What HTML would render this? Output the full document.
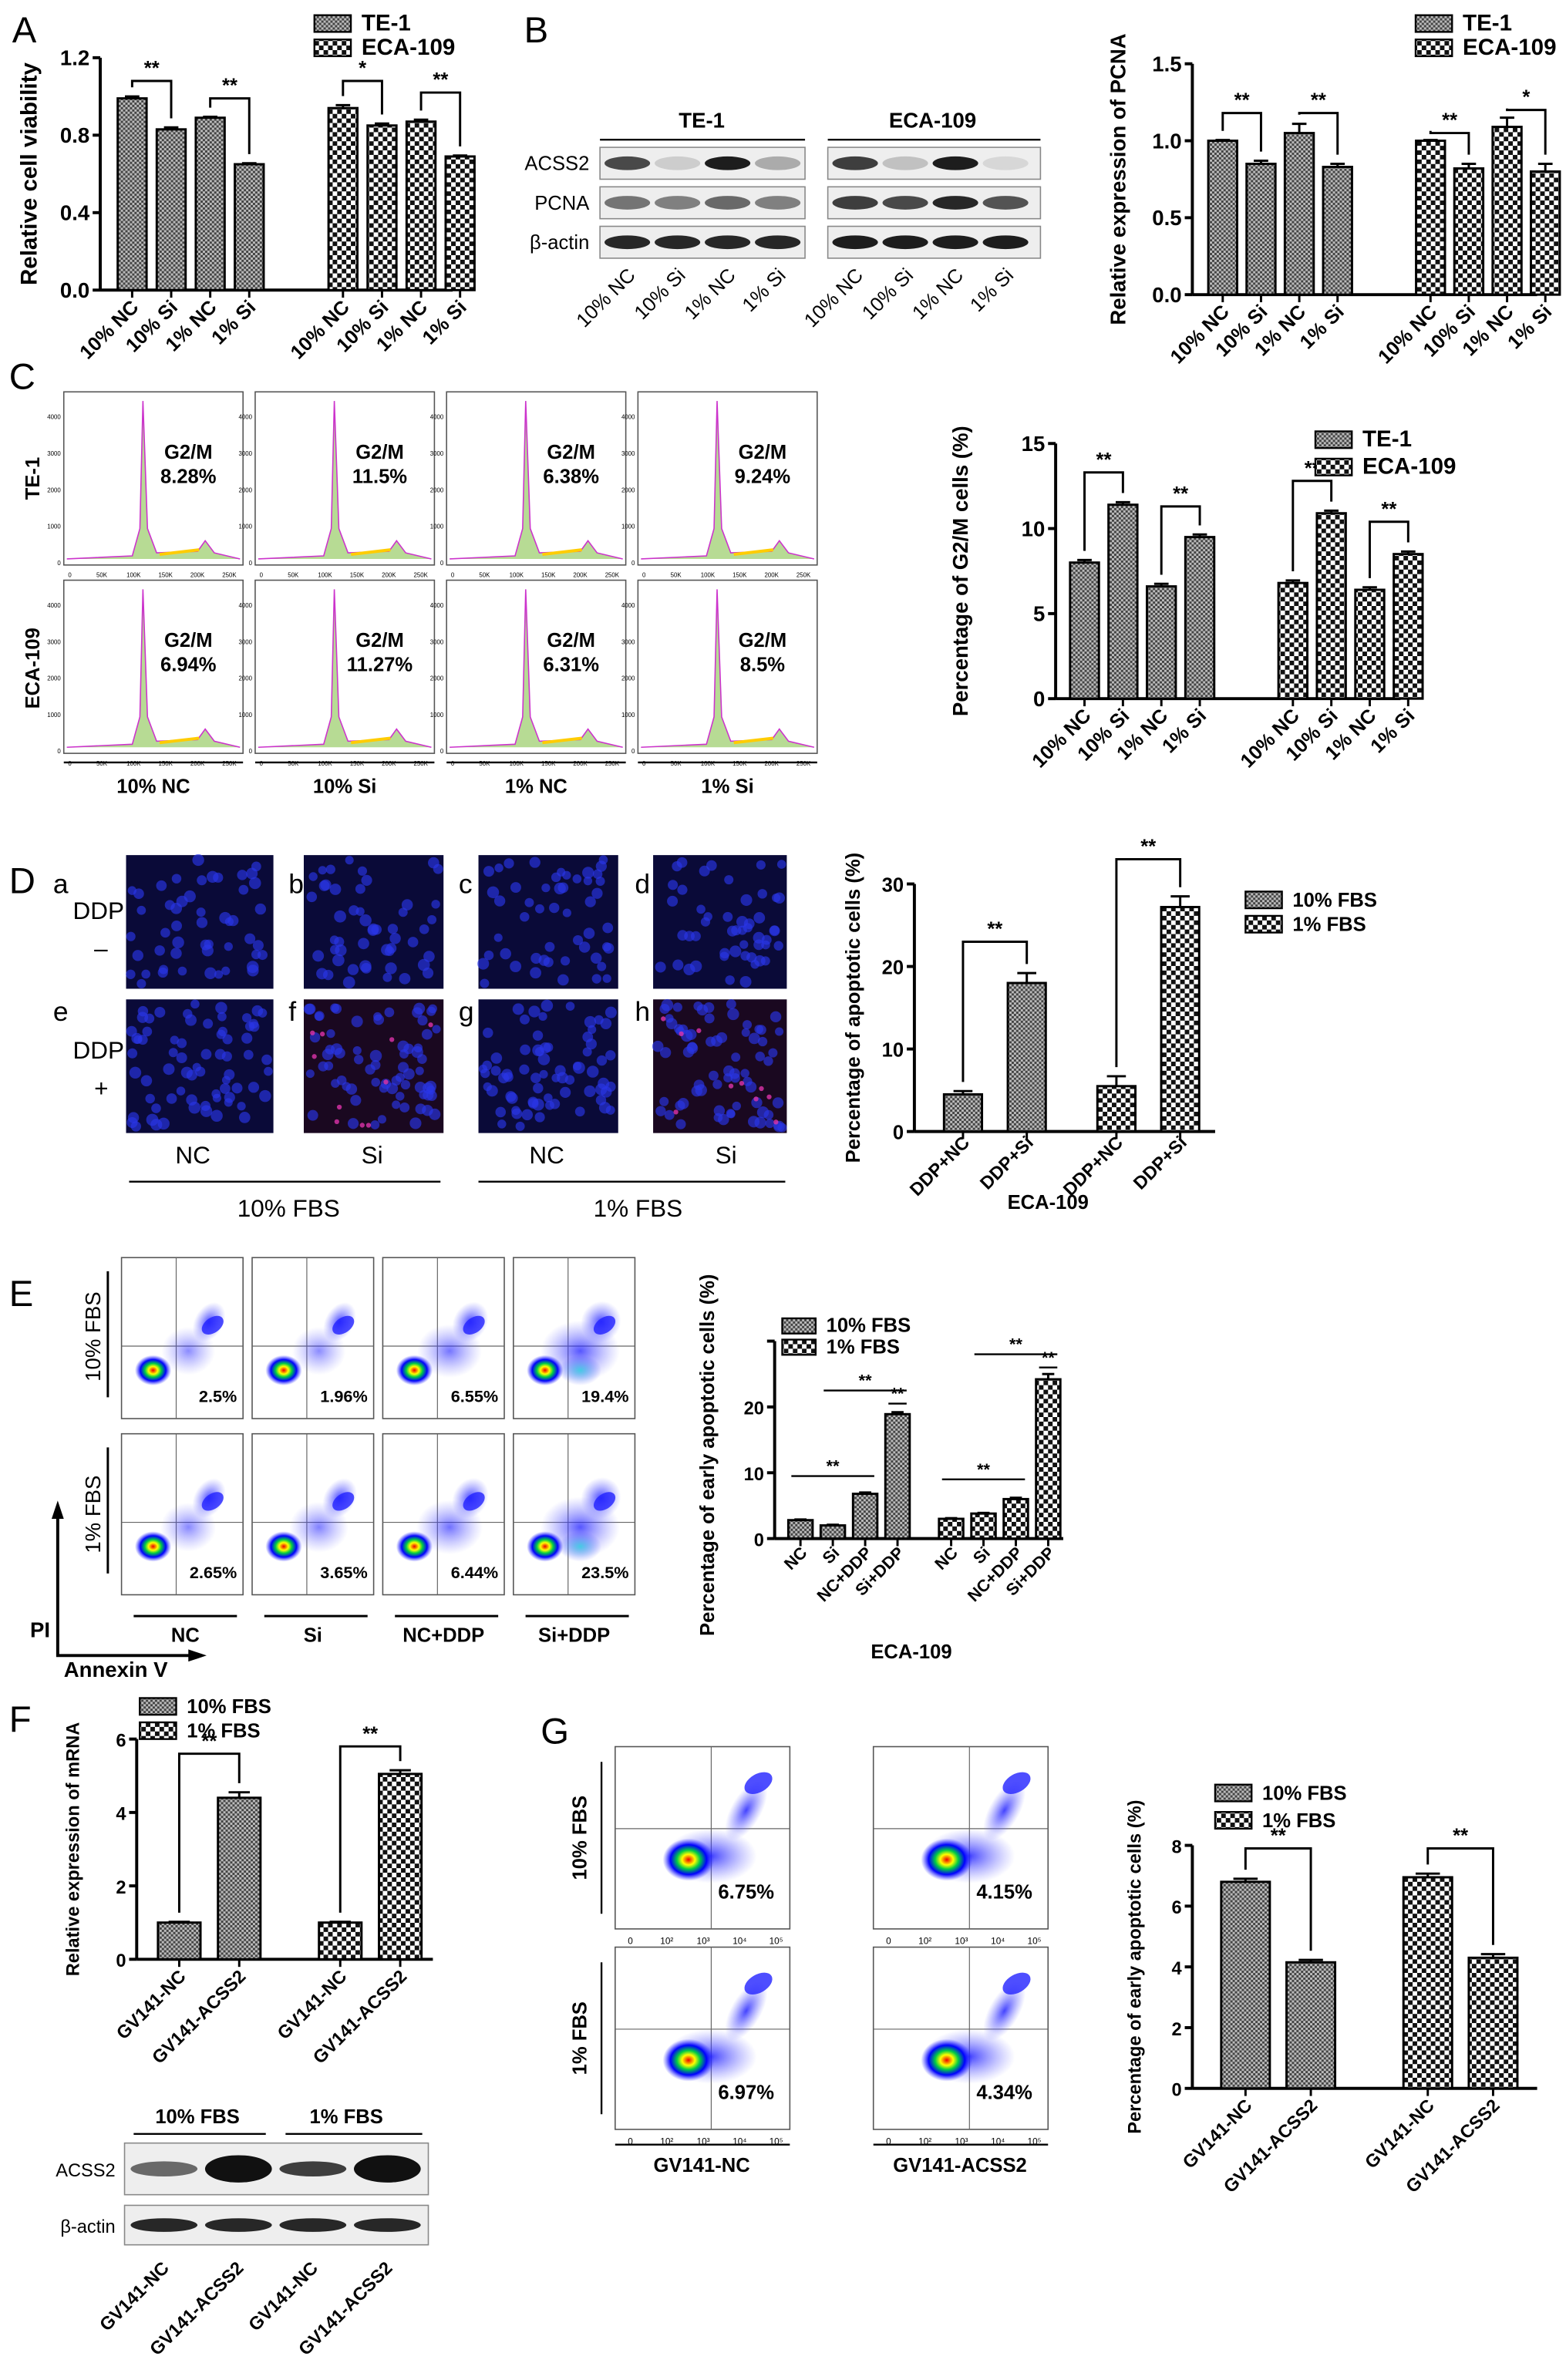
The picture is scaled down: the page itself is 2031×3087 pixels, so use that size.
<!DOCTYPE html>
<html><head><meta charset="utf-8"><style>
html,body{margin:0;padding:0;background:#fff}
svg{display:block}
text{font-family:"Liberation Sans",Arial,sans-serif}
</style></head><body>
<svg id="fig" xmlns="http://www.w3.org/2000/svg" width="2031" height="3087" viewBox="0 0 1031 1567" preserveAspectRatio="none">
<defs>
<pattern id="pFine" width="3" height="3" patternUnits="userSpaceOnUse"><rect width="3" height="3" fill="#bbb"/><rect width="1.5" height="1.5" fill="#444"/><rect x="1.5" y="1.5" width="1.5" height="1.5" fill="#444"/></pattern>
<pattern id="pCoarse" width="6" height="6" patternUnits="userSpaceOnUse"><rect width="6" height="6" fill="#fff"/><rect width="3" height="3" fill="#111"/><rect x="3" y="3" width="3" height="3" fill="#111"/></pattern>
<radialGradient id="blob"><stop offset="0" stop-color="#e00"/><stop offset="0.25" stop-color="#ff0"/><stop offset="0.45" stop-color="#0c4"/><stop offset="0.7" stop-color="#00f"/><stop offset="1" stop-color="#33f" stop-opacity="0"/></radialGradient>
<radialGradient id="cloud"><stop offset="0" stop-color="#22f" stop-opacity="0.85"/><stop offset="1" stop-color="#66f" stop-opacity="0"/></radialGradient>
<radialGradient id="cyan"><stop offset="0" stop-color="#2cd" stop-opacity="0.8"/><stop offset="1" stop-color="#44f" stop-opacity="0"/></radialGradient>
</defs>
<g id="root"></g>
</svg>
<script>
// ---------- chart data ----------
const aCategories = ["10% NC","10% Si","1% NC","1% Si","10% NC","10% Si","1% NC","1% Si"];
const aValues = [0.99,0.83,0.89,0.65,0.94,0.85,0.87,0.69];
const aErrors = [0.01,0.01,0.005,0.005,0.015,0.01,0.01,0.005];
const aTicks = [0,0.4,0.8,1.2];
const aTickLabels = ["0.0","0.4","0.8","1.2"];

const bValues = [1.0,0.85,1.05,0.83,1.0,0.82,1.09,0.80];
const bErrors = [0.005,0.02,0.06,0.02,0.005,0.03,0.06,0.05];
const bTicks = [0,0.5,1.0,1.5];
const bTickLabels = ["0.0","0.5","1.0","1.5"];

const cValues = [8.0,11.4,6.6,9.5,6.8,10.9,6.4,8.5];
const cErrors = [0.15,0.15,0.15,0.15,0.15,0.15,0.15,0.15];
const cTicks = [0,5,10,15];
const cTickLabels = ["0","5","10","15"];
const cPercents = ["8.28%","11.5%","6.38%","9.24%","6.94%","11.27%","6.31%","8.5%"];

const dCategories = ["DDP+NC","DDP+Si","DDP+NC","DDP+Si"];
const dValues = [4.5,18.0,5.5,27.2];
const dErrors = [0.4,1.2,1.2,1.3];
const dTicks = [0,10,20,30];
const dTickLabels = ["0","10","20","30"];

const eCategories = ["NC","Si","NC+DDP","Si+DDP","NC","Si","NC+DDP","Si+DDP"];
const eValues = [2.8,2.0,6.8,18.9,3.0,3.8,6.0,24.2];
const eErrors = [0.1,0.1,0.2,0.3,0.1,0.1,0.2,0.8];
const eTicks = [0,10,20,30];
const eTickLabels = ["0","10","20",""];
const ePercents = ["2.5%","1.96%","6.55%","19.4%","2.65%","3.65%","6.44%","23.5%"];

const fCategories = ["GV141-NC","GV141-ACSS2","GV141-NC","GV141-ACSS2"];
const fValues = [1.0,4.4,1.0,5.05];
const fErrors = [0.02,0.15,0.02,0.1];
const fTicks = [0,2,4,6];
const fTickLabels = ["0","2","4","6"];

const gValues = [6.8,4.15,6.95,4.3];
const gErrors = [0.1,0.08,0.12,0.12];
const gTicks = [0,2,4,6,8];
const gTickLabels = ["0","2","4","6","8"];
const gPercents = ["6.75%","4.15%","6.97%","4.34%"];

// ---------- helpers ----------
const NS="http://www.w3.org/2000/svg";
const root=document.getElementById('root');
function mk(tag,attrs,parent,txt){const e=document.createElementNS(NS,tag);for(const k in attrs)e.setAttribute(k,attrs[k]);if(txt!==undefined)e.textContent=txt;(parent||root).appendChild(e);return e;}
function grp(name,parent){const g=mk('g',{},parent);return g;}
function txt(s,x,y,size,opts,parent,name){opts=opts||{};const a={x:x,y:y,'font-size':size,'text-anchor':opts.anchor||'start',fill:opts.fill||'#000'};if(opts.bold!==false)a['font-weight']='bold';if(opts.rot!==undefined)a.transform='rotate('+opts.rot+' '+x+' '+y+')';const t=mk('text',a,parent,s);return t;}
function line(x1,y1,x2,y2,w,parent,col){return mk('line',{x1:x1,y1:y1,x2:x2,y2:y2,stroke:col||'#000','stroke-width':w||1.5},parent);}

function barChart(o){
  const g=grp(o.name);
  const max=o.ticks[o.ticks.length-1];
  const y=v=>o.y0-(v/max)*(o.y0-o.yTop);
  const n=o.values.length;
  const xs=i=>o.start+i*o.step+(i>=n/2?o.gap:0);
  const axis=grp(o.name+'-y-axis',g);
  line(o.axX,o.y0,o.axX,y(max),2,axis);
  o.ticks.forEach((t,i)=>{line(o.axX-5,y(t),o.axX,y(t),2,axis);txt(o.tickLabels[i],o.axX-7,y(t)+5,o.tfs||14,{anchor:'end'},axis,'y-tick-label');});
  const xa=grp(o.name+'-x-axis',g);
  line(o.axX,o.y0,o.axEnd,o.y0,2,xa);
  for(let i=0;i<n;i++){
    const cx=xs(i),v=o.values[i];
    const r=mk('rect',{x:cx-o.bw/2,y:y(v),width:o.bw,height:o.y0-y(v),fill:'url(#'+(i<n/2?'pFine':'pCoarse')+')',stroke:'#000','stroke-width':1.5},g);
    
    
    const e=o.errors[i];
    line(cx,y(v),cx,y(v+e),1.5,g);line(cx-o.bw/4,y(v+e),cx+o.bw/4,y(v+e),1.5,g);
    line(cx,o.y0,cx,o.y0+5,1.5,xa);
    txt(o.cats[i],cx+5,o.y0+(o.lblOff||12),o.xfs||13,{anchor:'end',rot:-45},xa,'x-tick-label');
  }
  (o.sig||[]).forEach(s=>{
    const x1=xs(s[0]),x2=xs(s[1]);const yt=y(s[2]);
    const p=mk('path',{d:`M${x1},${y(o.values[s[0]]+o.errors[s[0]])-6} V${yt} H${x2} V${y(o.values[s[1]]+o.errors[s[1]])-6}`,fill:'none',stroke:'#000','stroke-width':1.5},g);
    
    
    txt(s[3],(x1+x2)/2,yt-4,13,{anchor:'middle'},g,'significance-stars');
  });
  (o.lines||[]).forEach(s=>{
    const x1=xs(s[0]),x2=xs(s[1]),yt=y(s[2]);
    line(x1-6,yt,x2+6,yt,1.2,g);txt(s[3],(x1+x2)/2,yt-3,11,{anchor:'middle'},g,'significance-stars');
  });
  txt(o.ylabel,o.ylX,(o.y0+y(max))/2+(o.ylShift||0),o.yfs||14,{anchor:'middle',rot:-90},g,'y-axis-title');
  const lg=grp(o.name+'-legend',g);
  o.legend.forEach((l,i)=>{
    const ly=o.legY+i*o.legDy;
    const r=mk('rect',{x:o.legX,y:ly-o.legH+1,width:o.legW,height:o.legH,fill:'url(#'+(i==0?'pFine':'pCoarse')+')',stroke:'#000','stroke-width':1.2},lg);
    
    
    txt(l,o.legX+o.legW+7,ly,o.legFs||15,{},lg,'legend-entry');
  });
  if(o.xtitle) txt(o.xtitle,o.xtitleX,o.xtitleY,13,{anchor:'middle'},g,'x-axis-title');
}

[["A",8,28],["B",345,28],["C",6,256],["D",6,588],["E",6,860],["F",6,1140],["G",356,1148]].forEach(p=>txt(p[0],p[1],p[2],24,{bold:false},null,'panel-label-'+p[0].toLowerCase()));

barChart({name:'panel-a-chart',axX:66,axEnd:298,y0:191,yTop:38,ticks:aTicks,tickLabels:aTickLabels,values:aValues,errors:aErrors,cats:aCategories,
  start:87,step:25.7,gap:36,bw:19,ylabel:'Relative cell viability',ylX:24,yfs:15,
  sig:[[0,1,1.08,'**'],[2,3,0.99,'**'],[4,5,1.08,'*'],[6,7,1.02,'**']],
  legend:['TE-1','ECA-109'],legX:207,legY:20,legDy:16,legW:24,legH:11});

(function(){
  const g=grp('panel-b-western-blot');
  txt('TE-1',462,84,14,{anchor:'middle'},g,'blot-header');txt('ECA-109',614,84,14,{anchor:'middle'},g,'blot-header');
  line(395,92,530,92,1.2,g);line(545,92,685,92,1.2,g);
  const rows=[['ACSS2',97],['PCNA',123],['β-actin',149]];
  const inten=[[0.75,0.15,0.95,0.3],[0.55,0.5,0.6,0.5],[0.9,0.9,0.9,0.9]];
  const inten2=[[0.8,0.2,0.95,0.1],[0.8,0.75,0.9,0.7],[0.95,0.95,0.95,0.95]];
  rows.forEach((r,ri)=>{
    txt(r[0],388,r[1]+15,13,{anchor:'end',bold:false},g,'blot-row-label');
    [[395,inten],[545,inten2]].forEach(b=>{
      mk('rect',{x:b[0],y:r[1],width:b[0]==395?135:140,height:21,fill:'#eee',stroke:'#888','stroke-width':0.8},g);
      for(let k=0;k<4;k++){const op=b[1][ri][k];mk('ellipse',{cx:b[0]+18+k*33,cy:r[1]+10.5,rx:15,ry:4.5,fill:'#111','fill-opacity':op},g);}
    });
  });
  const lanes=['10% NC','10% Si','1% NC','1% Si'];
  [395,545].forEach(bx=>lanes.forEach((l,k)=>txt(l,bx+24+k*33,182,13,{anchor:'end',rot:-45,bold:false},g,'lane-label')));
})();

barChart({name:'panel-b-chart',axX:785,axEnd:1012,y0:194,yTop:42,ticks:bTicks,tickLabels:bTickLabels,values:bValues,errors:bErrors,cats:aCategories,
  start:805,step:25.2,gap:36,bw:19,ylabel:'Relative expression of PCNA',ylX:741,yfs:14,
  sig:[[0,1,1.18,'**'],[2,3,1.18,'**'],[4,5,1.05,'**'],[6,7,1.2,'*']],
  legend:['TE-1','ECA-109'],legX:932,legY:20,legDy:16,legW:24,legH:11});

(function(){
  const g=grp('panel-c-cell-cycle-histograms');
  const cols=[42,168,294,420],rows=[258,382],w=118,h=114;
  let idx=0;
  rows.forEach(ry=>cols.forEach(cx=>{
    const p=grp('histogram',g);
    mk('rect',{x:cx,y:ry,width:w,height:h,fill:'#fff',stroke:'#555','stroke-width':0.8},p);
    for(let k=0;k<5;k++){txt(String(k*1000),cx-2,ry+h-k*24,4,{anchor:'end',bold:false},p,'tick');}
    ['0','50K','100K','150K','200K','250K'].forEach((s,k)=>txt(s,cx+4+k*21,ry+h+8,4,{anchor:'middle',bold:false},p,'tick'));
    const px=cx+w*0.45,base=ry+h-4;
    mk('path',{d:`M${cx+2},${base} L${px-8},${base-2} L${px-3},${base-20} L${px-1},${ry+6} L${px+2},${base-20} L${px+8},${base-4} L${px+35},${base-5} L${px+40},${base-12} L${px+46},${base-4} L${cx+w-2},${base}`,fill:'#9c6','fill-opacity':0.7,stroke:'#c3c','stroke-width':0.8},p);
    mk('path',{d:`M${px+10},${base-3} L${px+36},${base-6}`,stroke:'#fc0','stroke-width':2,fill:'none'},p);
    txt('G2/M',cx+82,ry+44,13,{anchor:'middle'},p,'phase-label');
    txt(cPercents[idx],cx+82,ry+60,13,{anchor:'middle'},p,'phase-percent');
    idx++;
  }));
  txt('TE-1',26,315,13,{anchor:'middle',rot:-90},g,'row-label');
  txt('ECA-109',26,440,13,{anchor:'middle',rot:-90},g,'row-label');
  ['10% NC','10% Si','1% NC','1% Si'].forEach((s,k)=>{line(cols[k],502,cols[k]+w,502,1.2,g);txt(s,cols[k]+w/2,522,13,{anchor:'middle'},g,'column-label');});
})();

barChart({name:'panel-c-chart',axX:695,axEnd:922,y0:460,yTop:292,ticks:cTicks,tickLabels:cTickLabels,values:cValues,errors:cErrors,cats:aCategories,
  start:714,step:25.3,gap:36,bw:19,ylabel:'Percentage of G2/M cells (%)',ylX:637,yfs:14,
  sig:[[0,1,13.3,'**'],[2,3,11.3,'**'],[4,5,12.8,'**'],[6,7,10.4,'**']],
  legend:['TE-1','ECA-109'],legX:866,legY:294,legDy:18,legW:24,legH:11});

(function(){
  const g=grp('panel-d-fluorescence-images');
  const cols=[[83,97],[200,92],[315,92],[430,88]],rows=[563,658];
  const letters=[['a',35,588],['b',190,588],['c',302,588],['d',418,588],['e',35,672],['f',190,672],['g',302,672],['h',418,672]];
  let seed=7;const rnd=()=>{seed=(seed*16807)%2147483647;return seed/2147483647;};
  rows.forEach((ry,ri)=>cols.forEach((c,ci)=>{
    const p=grp('micrograph',g);
    const red=ri==1&&(ci==1||ci==3);
    mk('rect',{x:c[0],y:ry,width:c[1],height:88,fill:red?'#1a0820':'#0a0a38'},p);
    const cnt=ri==1?70:50;
    for(let k=0;k<cnt;k++){mk('circle',{cx:c[0]+3+rnd()*(c[1]-6),cy:ry+3+rnd()*82,r:2.8+rnd()*1.2,fill:'#2a36e8','fill-opacity':0.65},p);}
    if(red){for(let k=0;k<10;k++){mk('circle',{cx:c[0]+4+rnd()*(c[1]-8),cy:ry+4+rnd()*80,r:1.6,fill:'#d3a','fill-opacity':0.8},p);}}
  }));
  letters.forEach(l=>txt(l[0],l[1],l[2],18,{bold:false},g,'image-letter'));
  txt('DDP',48,605,16,{bold:false},g,'ddp-label');txt('–',62,630,16,{bold:false},g,'ddp-minus');
  txt('DDP',48,697,16,{bold:false},g,'ddp-label');txt('+',62,722,16,{bold:false},g,'ddp-plus');
  [['NC',127],['Si',245],['NC',360],['Si',478]].forEach(s=>txt(s[0],s[1],766,16,{anchor:'middle',bold:false},g,'group-label'));
  line(85,778,290,778,1.2,g);line(315,778,517,778,1.2,g);
  txt('10% FBS',190,801,16,{anchor:'middle',bold:false},g,'fbs-label');txt('1% FBS',420,801,16,{anchor:'middle',bold:false},g,'fbs-label');
})();

barChart({name:'panel-d-chart',axX:602,axEnd:800,y0:745,yTop:582,ticks:dTicks,tickLabels:dTickLabels,values:dValues,errors:dErrors,cats:dCategories,
  start:634,step:42,gap:17,bw:25,tfs:13,xfs:12,lblOff:8,ylabel:'Percentage of apoptotic cells (%)',ylX:566,yfs:13,
  sig:[[0,1,23,'**'],[2,3,33,'**']],
  legend:['10% FBS','1% FBS'],legX:820,legY:597,legDy:16,legW:24,legH:11,legFs:13,
  xtitle:'ECA-109',xtitleX:690,xtitleY:796});

(function(){
  const g=grp('panel-e-annexin-scatter');
  const cols=[80,166,252,338],rows=[828,944],w=80,h=106;
  const spread=[0.3,0.3,0.6,1.0,0.35,0.45,0.65,1.0];
  let idx=0;
  rows.forEach(ry=>cols.forEach(cx=>{
    const p=grp('scatter-plot',g);
    mk('rect',{x:cx,y:ry,width:w,height:h,fill:'#fff',stroke:'#555','stroke-width':0.8},p);
    line(cx+w*0.45,ry,cx+w*0.45,ry+h,0.6,p,'#666');line(cx,ry+h*0.55,cx+w,ry+h*0.55,0.6,p,'#666');
    const s=spread[idx];
    mk('ellipse',{cx:cx+w*0.55,cy:ry+h*0.58,rx:14+12*s,ry:14+6*s,fill:'url(#cloud)','fill-opacity':0.5+0.4*s},p);
    mk('ellipse',{cx:cx+w*0.72,cy:ry+h*0.4,rx:8+5*s,ry:14,fill:'url(#cloud)',transform:`rotate(30 ${cx+w*0.72} ${ry+h*0.4})`},p);
    mk('ellipse',{cx:cx+w*0.75,cy:ry+h*0.42,rx:8,ry:5,fill:'#22f','fill-opacity':0.8,transform:`rotate(-35 ${cx+w*0.75} ${ry+h*0.42})`},p);
    if(s>0.9)mk('ellipse',{cx:cx+w*0.55,cy:ry+h*0.7,rx:14,ry:10,fill:'url(#cyan)'},p);
    mk('ellipse',{cx:cx+w*0.26,cy:ry+h*0.7,rx:12,ry:10,fill:'url(#blob)'},p);
    txt(ePercents[idx],cx+w-4,ry+h-11,11,{anchor:'end'},p,'early-apoptosis-percent');
    idx++;
  }));
  txt('10% FBS',66,880,14,{anchor:'middle',rot:-90,bold:false},g,'row-label');line(71,837,71,920,1.5,g);
  txt('1% FBS',66,997,14,{anchor:'middle',rot:-90,bold:false},g,'row-label');line(71,953,71,1036,1.5,g);
  [['NC',122],['Si',206],['NC+DDP',292],['Si+DDP',378]].forEach((s,k)=>{line(cols[k]+8,1064,cols[k]+w-4,1064,1.5,g);txt(s[0],s[1],1081,13,{anchor:'middle'},g,'group-label');});
  mk('path',{d:'M38,992 V1090 H130',fill:'none',stroke:'#000','stroke-width':2},g);
  mk('path',{d:'M34,1000 L38,988 L42,1000 Z M124,1086 L136,1090 L124,1094 Z',fill:'#000'},g);
  txt('PI',33,1078,14,{anchor:'end'},g,'y-axis-arrow-label');txt('Annexin V',42,1104,14,{},g,'x-axis-arrow-label');
})();

barChart({name:'panel-e-chart',axX:510,axEnd:700,y0:1013,yTop:883,ticks:eTicks,tickLabels:eTickLabels,values:eValues,errors:eErrors,cats:eCategories,
  start:527,step:21.3,gap:14,bw:16,tfs:12,xfs:11,lblOff:10,ylabel:'Percentage of early apoptotic cells (%)',ylX:470,yfs:13,ylShift:10,
  lines:[[0,2,9.5,'**'],[1,3,22.5,'**'],[3,3,20.5,'**'],[4,6,9,'**'],[5,7,28,'**'],[7,7,26,'**']],
  legend:['10% FBS','1% FBS'],legX:515,legY:877,legDy:14,legW:22,legH:10,legFs:13,
  xtitle:'ECA-109',xtitleX:600,xtitleY:1092});

barChart({name:'panel-f-chart',axX:90,axEnd:285,y0:1290,yTop:1145,ticks:fTicks,tickLabels:fTickLabels,values:fValues,errors:fErrors,cats:fCategories,
  start:118,step:39.5,gap:27,bw:28,tfs:12,xfs:12,ylabel:'Relative expression of mRNA',ylX:52,yfs:12,
  sig:[[0,1,5.6,'**'],[2,3,5.8,'**']],
  legend:['10% FBS','1% FBS'],legX:92,legY:1128,legDy:16,legW:24,legH:11,legFs:13});

(function(){
  const g=grp('panel-f-western-blot');
  txt('10% FBS',130,1398,13,{anchor:'middle'},g,'blot-header');txt('1% FBS',228,1398,13,{anchor:'middle'},g,'blot-header');
  line(88,1405,175,1405,1.2,g);line(188,1405,278,1405,1.2,g);
  const rows=[['ACSS2',1411,34,[0.6,1,0.8,1]],['β-actin',1452,26,[0.9,0.9,0.9,0.9]]];
  rows.forEach(r=>{
    mk('rect',{x:82,y:r[1],width:200,height:r[2],fill:'#eee',stroke:'#888','stroke-width':0.8},g);
    txt(r[0],76,r[1]+r[2]/2+5,12,{anchor:'end',bold:false},g,'blot-row-label');
    for(let k=0;k<4;k++)mk('ellipse',{cx:108+k*49,cy:r[1]+r[2]/2,rx:22,ry:r[0]=='ACSS2'?(k%2?9:5):4.5,fill:'#111','fill-opacity':r[3][k]},g);
  });
  fCategories.forEach((l,k)=>txt(l,112+k*49,1494,12,{anchor:'end',rot:-45},g,'lane-label'));
})();

(function(){
  const g=grp('panel-g-flow-scatter');
  const cols=[405,575],rows=[1150,1282],w=115,h=120;
  let idx=0;
  rows.forEach(ry=>cols.forEach(cx=>{
    const p=grp('scatter-plot',g);
    mk('rect',{x:cx,y:ry,width:w,height:h,fill:'#fff',stroke:'#555','stroke-width':0.8},p);
    line(cx+w*0.55,ry,cx+w*0.55,ry+h,0.6,p,'#666');line(cx,ry+h*0.45,cx+w,ry+h*0.45,0.6,p,'#666');
    mk('ellipse',{cx:cx+w*0.55,cy:ry+h*0.6,rx:30,ry:18,fill:'url(#cloud)'},p);
    mk('ellipse',{cx:cx+w*0.75,cy:ry+h*0.35,rx:10,ry:22,fill:'url(#cloud)',transform:`rotate(30 ${cx+w*0.75} ${ry+h*0.35})`},p);
    mk('ellipse',{cx:cx+w*0.82,cy:ry+h*0.2,rx:10,ry:6,fill:'#22f','fill-opacity':0.8,transform:`rotate(-30 ${cx+w*0.82} ${ry+h*0.2})`},p);
    mk('ellipse',{cx:cx+w*0.42,cy:ry+h*0.62,rx:17,ry:14,fill:'url(#blob)'},p);
    txt(gPercents[idx],cx+w*0.75,ry+h-20,13,{anchor:'middle'},p,'early-apoptosis-percent');
    ['0','10²','10³','10⁴','10⁵'].forEach((s,k)=>txt(s,cx+10+k*24,ry+h+10,6,{anchor:'middle',bold:false},p,'tick'));
    idx++;
  }));
  txt('10% FBS',386,1210,13,{anchor:'middle',rot:-90},g,'row-label');line(396,1160,396,1260,1.2,g);
  txt('1% FBS',386,1342,13,{anchor:'middle',rot:-90},g,'row-label');line(396,1292,396,1392,1.2,g);
  line(405,1412,520,1412,1.2,g);line(575,1412,690,1412,1.2,g);
  txt('GV141-NC',462,1430,13,{anchor:'middle'},g,'group-label');txt('GV141-ACSS2',632,1430,13,{anchor:'middle'},g,'group-label');
})();

barChart({name:'panel-g-chart',axX:785,axEnd:1012,y0:1375,yTop:1215,ticks:gTicks,tickLabels:gTickLabels,values:gValues,errors:gErrors,cats:fCategories,
  start:820,step:43,gap:34,bw:32,tfs:12,xfs:12,ylabel:'Percentage of early apoptotic cells (%)',ylX:751,yfs:12,
  sig:[[0,1,7.9,'**'],[2,3,7.9,'**']],
  legend:['10% FBS','1% FBS'],legX:800,legY:1185,legDy:18,legW:24,legH:11,legFs:13});
</script>
</body></html>
